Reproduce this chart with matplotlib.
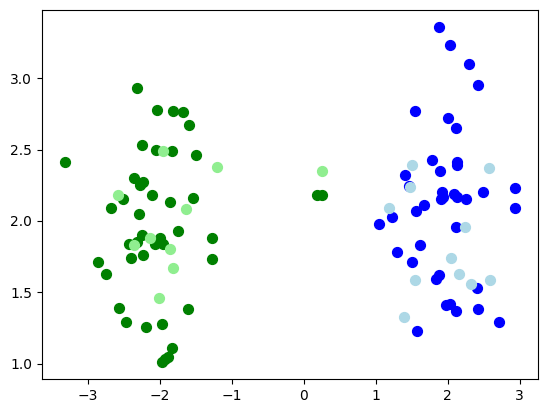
import matplotlib
matplotlib.use("Agg")
import matplotlib.pyplot as plt

green_x = [-2.31, -2.03, -1.82, -1.68, -1.59, -2.24, -2.05, -1.83, -1.49, -3.32,
           -2.35, -2.27, -2.23, -2.51, -2.11, -1.86, -1.54, -2.67, -2.28, -1.75,
           -2.25, -2.00, -2.43, -2.06, -1.96, -2.31, -1.27, -2.40, -2.23, -1.27,
           -2.86, -2.75, -2.56, -1.60, -2.46, -2.19, -1.97, -1.83, -1.89, -1.92,
           -1.97, 0.18, 0.25]
green_y = [2.93, 2.78, 2.77, 2.76, 2.67, 2.53, 2.50, 2.49, 2.46, 2.41,
           2.30, 2.25, 2.27, 2.15, 2.18, 2.13, 2.16, 2.09, 2.05, 1.93,
           1.90, 1.88, 1.84, 1.84, 1.84, 1.85, 1.88, 1.74, 1.76, 1.73,
           1.71, 1.63, 1.39, 1.38, 1.29, 1.26, 1.28, 1.11, 1.05, 1.03,
           1.01, 2.18, 2.18]

lightgreen_x = [-1.96, -1.21, -2.58, -1.64, -2.13, -2.36, -1.85, -1.82, -2.01, 0.26]
lightgreen_y = [2.49, 2.38, 2.18, 2.08, 1.88, 1.83, 1.80, 1.67, 1.46, 2.35]

blue_x = [1.875, 2.03, 2.29, 2.42, 1.54, 2.01, 2.11, 1.78, 2.13, 2.13,
          1.89, 1.40, 1.465, 1.92, 1.91, 1.94, 2.08, 2.13, 2.26, 2.49,
          2.93, 2.94, 1.56, 1.67, 1.04, 1.22, 2.12, 1.61, 1.29, 1.505,
          1.88, 1.83, 2.41, 2.03, 1.98, 2.12, 2.42, 2.71, 1.58]
blue_y = [3.36, 3.23, 3.10, 2.95, 2.77, 2.72, 2.65, 2.43, 2.41, 2.39,
          2.35, 2.32, 2.245, 2.20, 2.155, 2.17, 2.19, 2.17, 2.15, 2.20,
          2.23, 2.09, 2.07, 2.11, 1.98, 2.03, 1.96, 1.83, 1.78, 1.71,
          1.62, 1.59, 1.53, 1.42, 1.41, 1.37, 1.38, 1.29, 1.23]

lightblue_x = [1.51, 2.57, 1.47, 1.19, 2.24, 2.05, 2.15, 1.55, 2.32, 2.58, 1.39]
lightblue_y = [2.39, 2.37, 2.235, 2.09, 1.96, 1.74, 1.63, 1.585, 1.56, 1.585, 1.33]

fig = plt.figure(figsize=(5.47, 4.13), dpi=100)
ax = fig.add_axes([42/547, 1-379/413, 496/547, 369/413])
ax.scatter(green_x, green_y, s=50, c='green')
ax.scatter(lightgreen_x, lightgreen_y, s=50, c='lightgreen')
ax.scatter(blue_x, blue_y, s=50, c='blue')
ax.scatter(lightblue_x, lightblue_y, s=50, c='lightblue')
fig.savefig("out.png", dpi=100)
